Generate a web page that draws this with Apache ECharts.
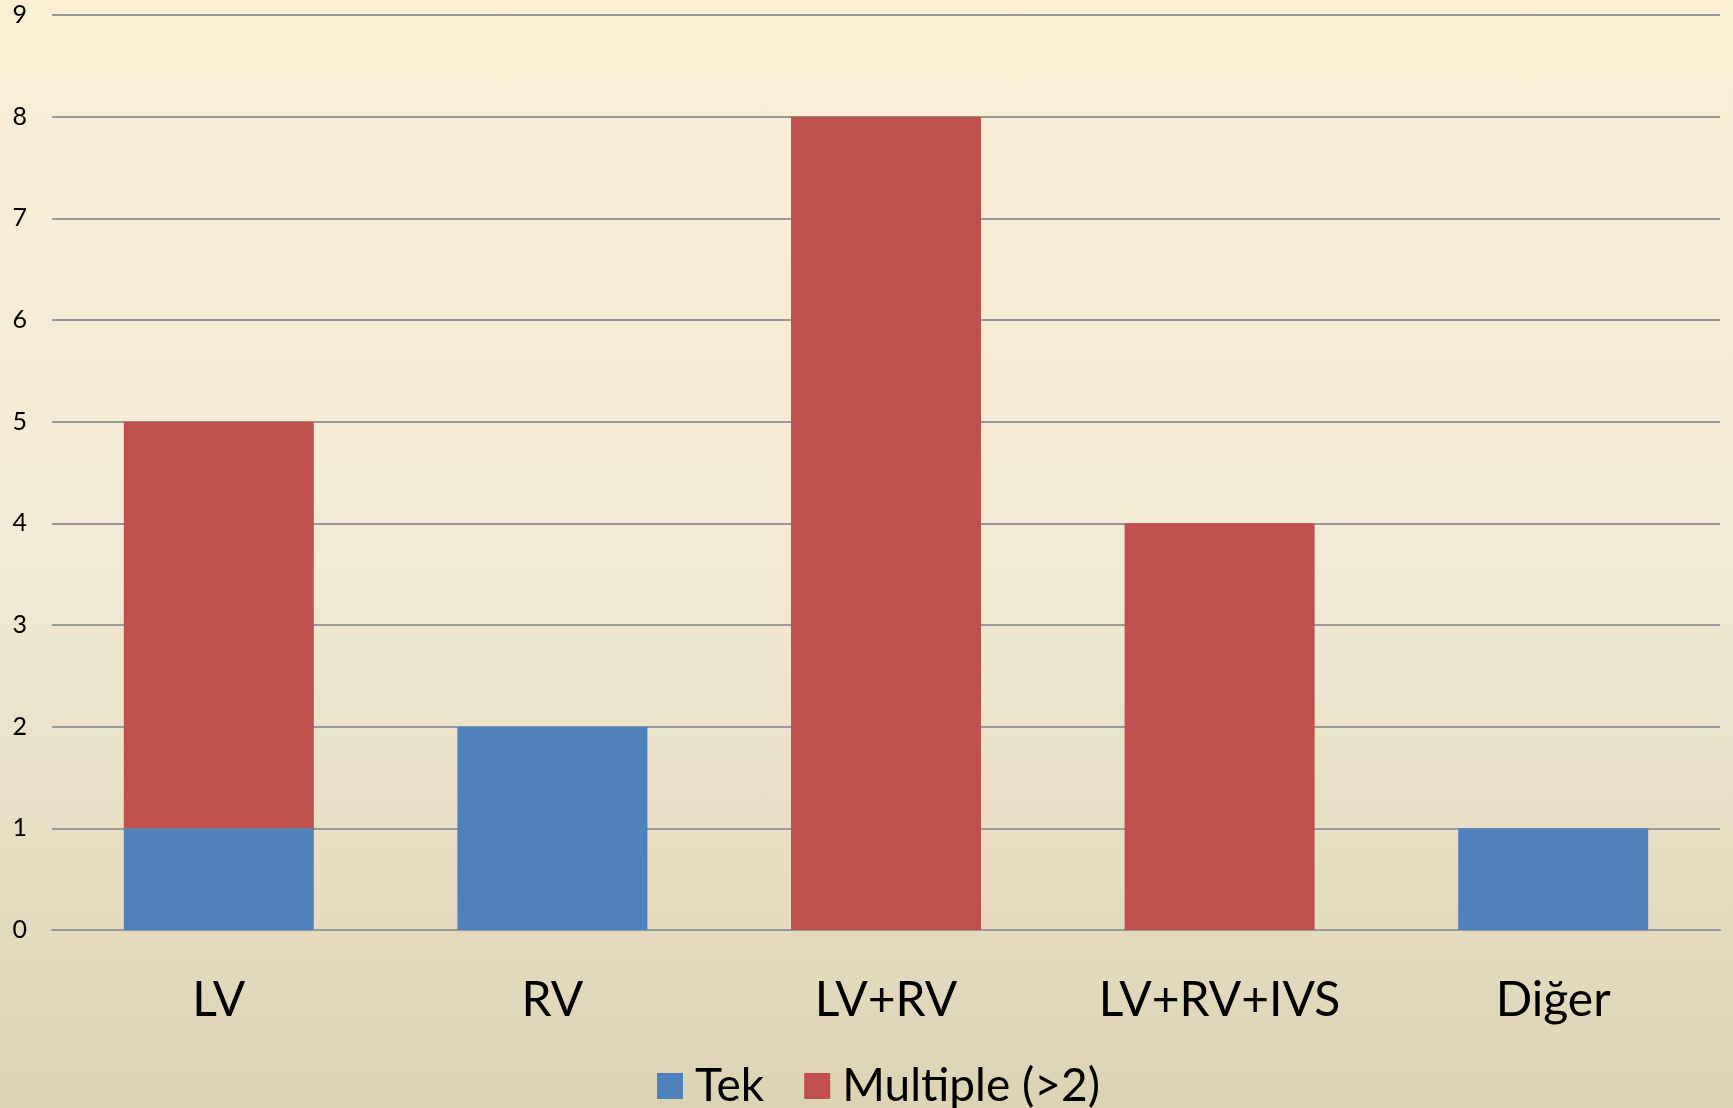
<!DOCTYPE html>
<html>
<head>
<meta charset="utf-8">
<script src="https://cdn.jsdelivr.net/npm/echarts@6/dist/echarts.min.js"></script>
<style>
  html, body { margin: 0; padding: 0; }
  #main {
    width: 1733px; height: 1108px;
    background: linear-gradient(to bottom, #fbeed5 0%, #f3ead6 50%, #ddd3b4 100%);
  }
</style>
</head>
<body>
<div id="main"></div>
<script>
// kategoriler ve seriler
var categories = ['LV', 'RV', 'LV+RV', 'LV+RV+IVS', 'Diğer'];
var tekValues = [1, 2, 0, 0, 1];
var multipleValues = [4, 0, 8, 4, 0];
var seriesNames = ['Tek', 'Multiple (>2)'];

var chart = echarts.init(document.getElementById('main'));

var option = {
  backgroundColor: 'transparent',
  animation: false,
  textStyle: { fontFamily: 'Lato' },
  grid: {
    left: 52,
    right: 13,
    top: 15,
    bottom: 178,
    containLabel: false
  },
  legend: {
    data: seriesNames,
    left: 657,
    top: 1063,
    padding: 0,
    itemWidth: 26,
    itemHeight: 26,
    itemGap: 40,
    icon: 'rect',
    textStyle: {
      fontSize: 46,
      color: '#000',
      fontFamily: 'Lato',
      padding: [0, 0, 0, 7]
    }
  },
  xAxis: {
    type: 'category',
    data: categories,
    axisLine: { lineStyle: { color: '#999', width: 2 } },
    axisTick: { show: false },
    axisLabel: {
      fontSize: 48,
      color: '#000',
      margin: 47,
      fontFamily: 'Lato'
    }
  },
  yAxis: {
    type: 'value',
    min: 0,
    max: 9,
    interval: 1,
    axisLine: { show: false },
    axisTick: { show: false },
    splitLine: { lineStyle: { color: '#999', width: 2 } },
    axisLabel: {
      fontSize: 25,
      color: '#000',
      margin: 25,
      fontFamily: 'Lato'
    }
  },
  series: [
    {
      name: seriesNames[0],
      type: 'bar',
      stack: 'total',
      barWidth: 190,
      itemStyle: { color: '#4f81bd' },
      data: tekValues
    },
    {
      name: seriesNames[1],
      type: 'bar',
      stack: 'total',
      barWidth: 190,
      itemStyle: { color: '#c0504d' },
      data: multipleValues
    }
  ]
};

chart.setOption(option);
</script>
</body>
</html>
